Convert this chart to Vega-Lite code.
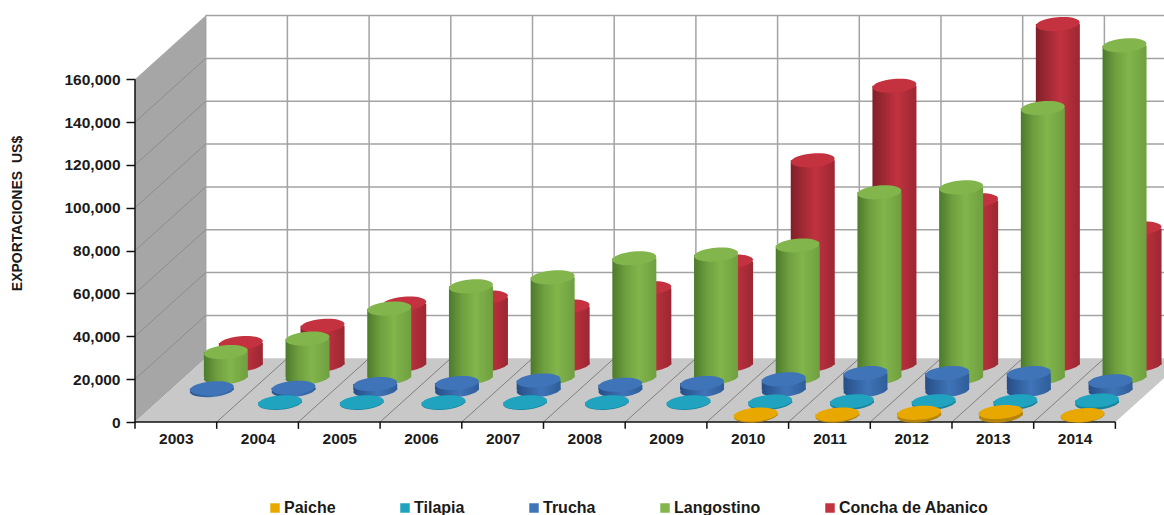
{
  "$schema": "https://vega.github.io/schema/vega-lite/v6.json",
  "width": 1029,
  "height": 422,
  "padding": {"left": 135, "top": 0, "right": 0, "bottom": 93},
  "autosize": "none",
  "background": "#ffffff",
  "config": {"view": {"stroke": null}, "text": {"font": "Liberation Sans"}},
  "datasets": {
    "exports": [
      {"year":2003,"species":"Concha de Abanico","value":10100},{"year":2004,"species":"Concha de Abanico","value":18200},{"year":2005,"species":"Concha de Abanico","value":28500},{"year":2006,"species":"Concha de Abanico","value":31400},{"year":2007,"species":"Concha de Abanico","value":27100},{"year":2008,"species":"Concha de Abanico","value":35700},{"year":2009,"species":"Concha de Abanico","value":48200},{"year":2010,"species":"Concha de Abanico","value":95400},{"year":2011,"species":"Concha de Abanico","value":130200},{"year":2012,"species":"Concha de Abanico","value":76700},{"year":2013,"species":"Concha de Abanico","value":159000},{"year":2014,"species":"Concha de Abanico","value":63600},
      {"year":2003,"species":"Langostino","value":11800},{"year":2004,"species":"Langostino","value":18100},{"year":2005,"species":"Langostino","value":32100},{"year":2006,"species":"Langostino","value":42500},{"year":2007,"species":"Langostino","value":46700},{"year":2008,"species":"Langostino","value":55600},{"year":2009,"species":"Langostino","value":57300},{"year":2010,"species":"Langostino","value":61600},{"year":2011,"species":"Langostino","value":86400},{"year":2012,"species":"Langostino","value":88700},{"year":2013,"species":"Langostino","value":125700},{"year":2014,"species":"Langostino","value":155000},
      {"year":2003,"species":"Trucha","value":800},{"year":2004,"species":"Trucha","value":1100},{"year":2005,"species":"Trucha","value":2800},{"year":2006,"species":"Trucha","value":3300},{"year":2007,"species":"Trucha","value":4500},{"year":2008,"species":"Trucha","value":2500},{"year":2009,"species":"Trucha","value":3300},{"year":2010,"species":"Trucha","value":5000},{"year":2011,"species":"Trucha","value":7900},{"year":2012,"species":"Trucha","value":7900},{"year":2013,"species":"Trucha","value":7900},{"year":2014,"species":"Trucha","value":4100},
      {"year":2004,"species":"Tilapia","value":300},{"year":2005,"species":"Tilapia","value":300},{"year":2006,"species":"Tilapia","value":300},{"year":2007,"species":"Tilapia","value":300},{"year":2008,"species":"Tilapia","value":300},{"year":2009,"species":"Tilapia","value":300},{"year":2010,"species":"Tilapia","value":600},{"year":2011,"species":"Tilapia","value":800},{"year":2012,"species":"Tilapia","value":800},{"year":2013,"species":"Tilapia","value":800},{"year":2014,"species":"Tilapia","value":1100},
      {"year":2010,"species":"Paiche","value":500},{"year":2011,"species":"Paiche","value":500},{"year":2012,"species":"Paiche","value":1300},{"year":2013,"species":"Paiche","value":1700},{"year":2014,"species":"Paiche","value":200}
    ],
    "leftWall": [
      {"year":2002.5,"low":0,"high":160000},
      {"year":2003.365,"low":29738,"high":189738}
    ],
    "floor": [
      {"year":2002.5,"low":0,"high":0},
      {"year":2003.365,"low":0,"high":29738},
      {"year":2014.5,"low":0,"high":29738},
      {"year":2015.365,"low":29738,"high":29738}
    ],
    "levels": [{"level":20000},{"level":40000},{"level":60000},{"level":80000},{"level":100000},{"level":120000},{"level":140000},{"level":160000}],
    "boundaries": [{"edge":2002.5},{"edge":2003.5},{"edge":2004.5},{"edge":2005.5},{"edge":2006.5},{"edge":2007.5},{"edge":2008.5},{"edge":2009.5},{"edge":2010.5},{"edge":2011.5},{"edge":2012.5},{"edge":2013.5},{"edge":2014.5}],
    "wallDiagonals": [
      {"x0":2002.5,"x1":2003.365,"y0":20000,"y1":49738},{"x0":2002.5,"x1":2003.365,"y0":40000,"y1":69738},{"x0":2002.5,"x1":2003.365,"y0":60000,"y1":89738},{"x0":2002.5,"x1":2003.365,"y0":80000,"y1":109738},{"x0":2002.5,"x1":2003.365,"y0":100000,"y1":129738},{"x0":2002.5,"x1":2003.365,"y0":120000,"y1":149738},{"x0":2002.5,"x1":2003.365,"y0":140000,"y1":169738}
    ],
    "floorDiagonals": [
      {"x0":2003.5,"x1":2004.365,"y0":0,"y1":29738},{"x0":2004.5,"x1":2005.365,"y0":0,"y1":29738},{"x0":2005.5,"x1":2006.365,"y0":0,"y1":29738},{"x0":2006.5,"x1":2007.365,"y0":0,"y1":29738},{"x0":2007.5,"x1":2008.365,"y0":0,"y1":29738},{"x0":2008.5,"x1":2009.365,"y0":0,"y1":29738},{"x0":2009.5,"x1":2010.365,"y0":0,"y1":29738},{"x0":2010.5,"x1":2011.365,"y0":0,"y1":29738},{"x0":2011.5,"x1":2012.365,"y0":0,"y1":29738},{"x0":2012.5,"x1":2013.365,"y0":0,"y1":29738},{"x0":2013.5,"x1":2014.365,"y0":0,"y1":29738}
    ]
  },
  "layer": [
    {
      "description": "left wall; the shared scales and both axes are declared here",
      "data": {"name": "leftWall"},
      "mark": {"type": "area", "fill": "#a6a6a6", "orient": "vertical"},
      "encoding": {
        "x": {"field": "year", "type": "quantitative",
          "scale": {"domain": [2002.5, 2015.095], "nice": false, "zero": false, "padding": 0},
          "axis": {"title": null, "values": [2003,2004,2005,2006,2007,2008,2009,2010,2011,2012,2013,2014], "format": "d", "domain": false, "ticks": false, "grid": false, "labelFont": "Liberation Sans", "labelFontWeight": "bold", "labelFontSize": 15.5, "labelColor": "#1a1a1a", "labelPadding": 9, "labelFlush": false}},
        "y": {"field": "low", "type": "quantitative",
          "scale": {"domain": [0, 197012], "nice": false, "zero": false},
          "axis": {"title": "EXPORTACIONES\u00a0\u00a0US$", "titleFont": "Liberation Sans", "titleFontWeight": "bold", "titleFontSize": 14, "titleColor": "#1a1a1a", "titleX": -111, "titleY": 213, "values": [0,20000,40000,60000,80000,100000,120000,140000,160000], "labelExpr": "format(datum.value, ',')", "domain": false, "grid": false, "tickSize": 9, "tickColor": "#111111", "tickWidth": 1.5, "labelFont": "Liberation Sans", "labelFontWeight": "bold", "labelFontSize": 15.5, "labelColor": "#1a1a1a", "labelPadding": 6}},
        "y2": {"field": "high"}
      }
    },
    {
      "description": "floor",
      "data": {"name": "floor"},
      "mark": {"type": "area", "fill": "#c8c8c8", "orient": "vertical"},
      "encoding": {
        "x": {"field": "year", "type": "quantitative"},
        "y": {"field": "low", "type": "quantitative"},
        "y2": {"field": "high"}
      }
    },
    {
      "description": "back wall horizontal gridlines",
      "data": {"name": "levels"},
      "mark": {"type": "rule", "color": "#a3a3a3", "strokeWidth": 1.5, "xOffset": 70.7, "x2Offset": 70.7, "yOffset": -63.7, "y2Offset": -63.7},
      "encoding": {
        "x": {"datum": 2002.5, "type": "quantitative"},
        "x2": {"datum": 2015.1},
        "y": {"field": "level", "type": "quantitative"}
      }
    },
    {
      "description": "back wall vertical gridlines",
      "data": {"name": "boundaries"},
      "mark": {"type": "rule", "color": "#a3a3a3", "strokeWidth": 1.5, "xOffset": 70.7, "x2Offset": 70.7, "yOffset": -63.7, "y2Offset": -63.7},
      "encoding": {
        "x": {"field": "edge", "type": "quantitative"},
        "y": {"datum": 0, "type": "quantitative"},
        "y2": {"datum": 160000}
      }
    },
    {
      "description": "gridlines receding across the left wall",
      "data": {"name": "wallDiagonals"},
      "mark": {"type": "rule", "color": "#8c8c8c", "strokeWidth": 1},
      "encoding": {
        "x": {"field": "x0", "type": "quantitative"},
        "x2": {"field": "x1"},
        "y": {"field": "y0", "type": "quantitative"},
        "y2": {"field": "y1"}
      }
    },
    {
      "description": "category separators receding across the floor",
      "data": {"name": "floorDiagonals"},
      "mark": {"type": "rule", "color": "#7f7f7f", "strokeWidth": 1},
      "encoding": {
        "x": {"field": "x0", "type": "quantitative"},
        "x2": {"field": "x1"},
        "y": {"field": "y0", "type": "quantitative"},
        "y2": {"field": "y1"}
      }
    },
    {
      "description": "front edge of the chart with ticks between categories",
      "data": {"name": "boundaries"},
      "mark": {"type": "rule", "color": "#111111", "strokeWidth": 1.5},
      "encoding": {
        "x": {"field": "edge", "type": "quantitative"},
        "y": {"datum": 0, "type": "quantitative"},
        "y2": {"datum": -3200}
      }
    },
    {
      "mark": {"type": "rule", "color": "#111111", "strokeWidth": 1.5},
      "data": {"values": [{"from": 2002.5, "to": 2014.5}]},
      "encoding": {
        "x": {"field": "from", "type": "quantitative"},
        "x2": {"field": "to"},
        "y": {"datum": 0, "type": "quantitative"}
      }
    },
    {
      "mark": {"type": "rule", "color": "#111111", "strokeWidth": 1.5},
      "data": {"values": [{"from": 0, "to": 160000}]},
      "encoding": {
        "x": {"datum": 2002.5, "type": "quantitative"},
        "y": {"field": "from", "type": "quantitative"},
        "y2": {"field": "to"}
      }
    },

    {"description": "Concha de Abanico cylinders", "data": {"name": "exports"}, "transform": [{"filter": "datum.species === 'Concha de Abanico'"}],
     "layer": [
      {"mark": {"type": "point", "filled": true, "opacity": 1, "strokeWidth": 0, "shape": "M-1,0 A1,0.31,0,1,1,1,0 A1,0.31,0,1,1,-1,0 Z", "size": 1936, "angle": -5, "xOffset": 65, "yOffset": -57.3, "fill": {"gradient": "linear", "x1": 0, "x2": 1, "y1": 0, "y2": 0, "stops": [{"offset": 0, "color": "#7f2029"}, {"offset": 0.55, "color": "#c1323f"}, {"offset": 1, "color": "#9b2732"}]}},
       "encoding": {"x": {"field": "year", "type": "quantitative"}, "y": {"datum": 0, "type": "quantitative"}}},
      {"mark": {"type": "bar", "width": 44, "xOffset": 65, "yOffset": -57.3, "y2Offset": -57.3, "fill": {"gradient": "linear", "x1": 0, "x2": 1, "y1": 0, "y2": 0, "stops": [{"offset": 0, "color": "#7f2029"}, {"offset": 0.55, "color": "#c1323f"}, {"offset": 1, "color": "#9b2732"}]}},
       "encoding": {"x": {"field": "year", "type": "quantitative"}, "y": {"field": "value", "type": "quantitative", "stack": null}, "y2": {"datum": 0}}},
      {"mark": {"type": "point", "filled": true, "opacity": 1, "strokeWidth": 0, "shape": "M-1,0 A1,0.31,0,1,1,1,0 A1,0.31,0,1,1,-1,0 Z", "size": 1936, "angle": -5, "xOffset": 65, "yOffset": -57.3},
       "encoding": {"x": {"field": "year", "type": "quantitative"}, "y": {"field": "value", "type": "quantitative"},
        "color": {"field": "species", "type": "nominal",
          "scale": {"domain": ["Paiche", "Tilapia", "Trucha", "Langostino", "Concha de Abanico"], "range": ["#e8a800", "#1fa3bf", "#3f74b8", "#82b54b", "#c4313f"]},
          "legend": {"title": null, "orient": "none", "legendX": 132, "legendY": 500, "direction": "horizontal", "columns": 5, "gridAlign": "none", "columnPadding": 61, "padding": 0, "symbolType": "square", "symbolSize": 90, "symbolStrokeWidth": 0, "labelOffset": 1, "labelFont": "Liberation Sans", "labelFontWeight": "bold", "labelFontSize": 16, "labelColor": "#1a1a1a", "labelLimit": 300}}}}
     ]},

    {"description": "Langostino cylinders", "data": {"name": "exports"}, "transform": [{"filter": "datum.species === 'Langostino'"}],
     "layer": [
      {"mark": {"type": "point", "filled": true, "opacity": 1, "strokeWidth": 0, "shape": "M-1,0 A1,0.31,0,1,1,1,0 A1,0.31,0,1,1,-1,0 Z", "size": 1936, "angle": -5, "xOffset": 50, "yOffset": -44.6, "fill": {"gradient": "linear", "x1": 0, "x2": 1, "y1": 0, "y2": 0, "stops": [{"offset": 0, "color": "#4c7a2c"}, {"offset": 0.3, "color": "#6f9f3f"}, {"offset": 0.6, "color": "#82b54b"}, {"offset": 1, "color": "#6f9f40"}]}},
       "encoding": {"x": {"field": "year", "type": "quantitative"}, "y": {"datum": 0, "type": "quantitative"}}},
      {"mark": {"type": "bar", "width": 44, "xOffset": 50, "yOffset": -44.6, "y2Offset": -44.6, "fill": {"gradient": "linear", "x1": 0, "x2": 1, "y1": 0, "y2": 0, "stops": [{"offset": 0, "color": "#4c7a2c"}, {"offset": 0.3, "color": "#6f9f3f"}, {"offset": 0.6, "color": "#82b54b"}, {"offset": 1, "color": "#6f9f40"}]}},
       "encoding": {"x": {"field": "year", "type": "quantitative"}, "y": {"field": "value", "type": "quantitative", "stack": null}, "y2": {"datum": 0}}},
      {"mark": {"type": "point", "filled": true, "opacity": 1, "strokeWidth": 0, "shape": "M-1,0 A1,0.31,0,1,1,1,0 A1,0.31,0,1,1,-1,0 Z", "size": 1936, "angle": -5, "xOffset": 50, "yOffset": -44.6},
       "encoding": {"x": {"field": "year", "type": "quantitative"}, "y": {"field": "value", "type": "quantitative"}, "color": {"field": "species", "type": "nominal", "legend": null}}}
     ]},

    {"description": "Trucha cylinders", "data": {"name": "exports"}, "transform": [{"filter": "datum.species === 'Trucha'"}],
     "layer": [
      {"mark": {"type": "point", "filled": true, "opacity": 1, "strokeWidth": 0, "shape": "M-1,0 A1,0.31,0,1,1,1,0 A1,0.31,0,1,1,-1,0 Z", "size": 1936, "angle": -5, "xOffset": 36, "yOffset": -31.9, "fill": {"gradient": "linear", "x1": 0, "x2": 1, "y1": 0, "y2": 0, "stops": [{"offset": 0, "color": "#264e86"}, {"offset": 0.55, "color": "#3f74b8"}, {"offset": 1, "color": "#2f5d99"}]}},
       "encoding": {"x": {"field": "year", "type": "quantitative"}, "y": {"datum": 0, "type": "quantitative"}}},
      {"mark": {"type": "bar", "width": 44, "xOffset": 36, "yOffset": -31.9, "y2Offset": -31.9, "fill": {"gradient": "linear", "x1": 0, "x2": 1, "y1": 0, "y2": 0, "stops": [{"offset": 0, "color": "#264e86"}, {"offset": 0.55, "color": "#3f74b8"}, {"offset": 1, "color": "#2f5d99"}]}},
       "encoding": {"x": {"field": "year", "type": "quantitative"}, "y": {"field": "value", "type": "quantitative", "stack": null}, "y2": {"datum": 0}}},
      {"mark": {"type": "point", "filled": true, "opacity": 1, "strokeWidth": 0, "shape": "M-1,0 A1,0.31,0,1,1,1,0 A1,0.31,0,1,1,-1,0 Z", "size": 1936, "angle": -5, "xOffset": 36, "yOffset": -31.9},
       "encoding": {"x": {"field": "year", "type": "quantitative"}, "y": {"field": "value", "type": "quantitative"}, "color": {"field": "species", "type": "nominal", "legend": null}}}
     ]},

    {"description": "Tilapia discs", "data": {"name": "exports"}, "transform": [{"filter": "datum.species === 'Tilapia'"}],
     "layer": [
      {"mark": {"type": "point", "filled": true, "opacity": 1, "strokeWidth": 0, "fill": "#16839b", "shape": "M-1,0 A1,0.31,0,1,1,1,0 A1,0.31,0,1,1,-1,0 Z", "size": 1936, "angle": -5, "xOffset": 22.5, "yOffset": -19.1},
       "encoding": {"x": {"field": "year", "type": "quantitative"}, "y": {"datum": 0, "type": "quantitative"}}},
      {"mark": {"type": "bar", "width": 44, "xOffset": 22.5, "yOffset": -19.1, "y2Offset": -19.1, "fill": "#16839b"},
       "encoding": {"x": {"field": "year", "type": "quantitative"}, "y": {"field": "value", "type": "quantitative", "stack": null}, "y2": {"datum": 0}}},
      {"mark": {"type": "point", "filled": true, "opacity": 1, "strokeWidth": 0, "shape": "M-1,0 A1,0.31,0,1,1,1,0 A1,0.31,0,1,1,-1,0 Z", "size": 1936, "angle": -5, "xOffset": 22.5, "yOffset": -19.1},
       "encoding": {"x": {"field": "year", "type": "quantitative"}, "y": {"field": "value", "type": "quantitative"}, "color": {"field": "species", "type": "nominal", "legend": null}}}
     ]},

    {"description": "Paiche discs", "data": {"name": "exports"}, "transform": [{"filter": "datum.species === 'Paiche'"}],
     "layer": [
      {"mark": {"type": "point", "filled": true, "opacity": 1, "strokeWidth": 0, "fill": "#b5840a", "shape": "M-1,0 A1,0.31,0,1,1,1,0 A1,0.31,0,1,1,-1,0 Z", "size": 1936, "angle": -5, "xOffset": 8, "yOffset": -6.4},
       "encoding": {"x": {"field": "year", "type": "quantitative"}, "y": {"datum": 0, "type": "quantitative"}}},
      {"mark": {"type": "bar", "width": 44, "xOffset": 8, "yOffset": -6.4, "y2Offset": -6.4, "fill": "#b5840a"},
       "encoding": {"x": {"field": "year", "type": "quantitative"}, "y": {"field": "value", "type": "quantitative", "stack": null}, "y2": {"datum": 0}}},
      {"mark": {"type": "point", "filled": true, "opacity": 1, "strokeWidth": 0, "shape": "M-1,0 A1,0.31,0,1,1,1,0 A1,0.31,0,1,1,-1,0 Z", "size": 1936, "angle": -5, "xOffset": 8, "yOffset": -6.4},
       "encoding": {"x": {"field": "year", "type": "quantitative"}, "y": {"field": "value", "type": "quantitative"}, "color": {"field": "species", "type": "nominal", "legend": null}}}
     ]}
  ]
}
